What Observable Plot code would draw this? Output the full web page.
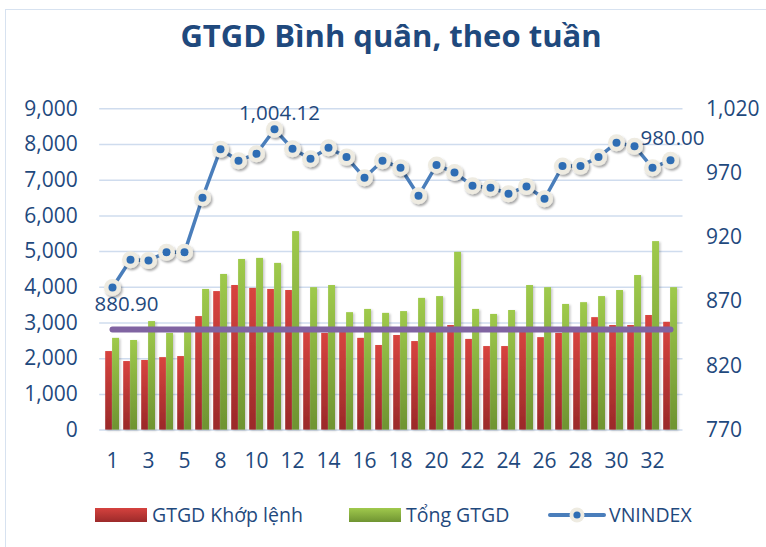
<!DOCTYPE html>
<html>
<head>
<meta charset="utf-8">
<script src="https://cdn.jsdelivr.net/npm/d3@7"></script>
<script src="https://cdn.jsdelivr.net/npm/@observablehq/plot@0.6"></script>
<style>
  html, body { margin: 0; padding: 0; background: #fff; overflow: hidden; }
  #wrap { position: relative; width: 766px; height: 547px; overflow: hidden; font-family: "Open Sans", sans-serif; color: #1f497d; }
  #border { position: absolute; left: 5px; top: 9px; width: 900px; height: 700px; border: 1.5px solid #d7e2f0; box-sizing: border-box; }
  #title { position: absolute; left: 8px; top: 20px; width: 766px; text-align: center; font-weight: 700; font-size: 31px; line-height: 31px; color: #1f497d; }
  #chart { position: absolute; left: 0; top: 72px; }
  #legend { position: absolute; left: 0; top: 490px; width: 766px; height: 57px; font-size: 19.5px; }
  .sw { position: absolute; top: 18px; width: 52px; height: 14px; }
  .lt { position: absolute; top: 25px; transform: translateY(-50%); white-space: nowrap; line-height: 1; }
</style>
</head>
<body>
<div id="wrap">
  <div id="border"></div>
  <div id="title">GTGD Bình quân, theo tuần</div>
  <div id="chart"></div>
  <div id="legend">
    <div class="sw" style="left:95px;background:linear-gradient(#d5423e,#9c2a2a);"></div>
    <div class="lt" style="left:152px;">GTGD Khớp lệnh</div>
    <div class="sw" style="left:349px;background:linear-gradient(#a0c94d,#6f9432);"></div>
    <div class="lt" style="left:406px;">Tổng GTGD</div>
    <svg style="position:absolute;left:548px;top:15px;" width="58" height="20">
      <line x1="2" y1="10" x2="56" y2="10" stroke="#4a7ebb" stroke-width="4" stroke-linecap="round"></line>
      <circle cx="29" cy="10" r="7.5" fill="#eeebe1"></circle>
      <circle cx="29" cy="10" r="3.6" fill="#2e6db4"></circle>
    </svg>
    <div class="lt" style="left:609px;">VNINDEX</div>
  </div>
</div>
<script>
// ---- Data ----
const weeks = ["1","2","3","4","5","7","8","9","10","11","12","13","14","15","16","17","18","19","20","21","22","23","24","25","26","27","28","29","30","31","32","33"];
const khopLenh = [2200,1920,1950,2030,2060,3180,3880,4050,3970,3940,3910,2830,2710,2800,2570,2370,2650,2480,2850,2930,2540,2340,2340,2850,2590,2710,2800,3150,2930,2930,3210,3020];
const tongGTGD = [2570,2510,3040,2710,2780,3940,4360,4780,4810,4670,5560,3990,4050,3290,3380,3270,3320,3690,3740,4980,3380,3240,3350,4050,3990,3520,3570,3740,3910,4330,5280,3990];
const vnindex = [880.90,902.5,902.0,908.4,908.3,950.8,988.6,979.6,985.0,1004.12,988.9,981.1,989.7,982.4,966.3,979.6,974.1,952.3,976.2,970.5,960.1,958.6,953.9,959.6,950.0,975.4,975.4,982.4,993.6,990.9,974.1,980.00];
const avgValue = 2820;
const leftTicks = [0,1000,2000,3000,4000,5000,6000,7000,8000,9000];
const rightTicks = [770,820,870,920,970,1020];
const labeledIdx = [0, 9, 31];

// right axis (VNINDEX) mapped onto left scale
const rMin = 770, rMax = 1020, lMax = 9000;
const toLeft = v => (v - rMin) / (rMax - rMin) * lMax;
const fromLeft = d => d / lMax * (rMax - rMin) + rMin;

const rows = weeks.map((w, i) => ({week: w, khop: khopLenh[i], tong: tongGTGD[i], vn: vnindex[i], vnL: toLeft(vnindex[i]), avg: avgValue}));
const fmt2 = d3.format(",.2f");
const lab = i => [rows[i]];

const svg = Plot.plot({
  width: 766,
  height: 418,
  marginTop: 36.3,
  marginBottom: 60.4,
  marginLeft: 99.2,
  marginRight: 83.5,
  style: {fontFamily: "Open Sans, sans-serif", fontSize: "21px", color: "#1f497d", background: "transparent", overflow: "visible"},
  x: {type: "band", domain: weeks, padding: 0, axis: null},
  y: {domain: [0, lMax], axis: null},
  marks: [
    Plot.gridY(leftTicks, {stroke: "#cfdcee", strokeOpacity: 1, strokeWidth: 1.5}),
    Plot.axisY(leftTicks, {anchor: "left", tickSize: 0, tickPadding: 22, tickFormat: d3.format(","), fontSize: 21, label: null}),
    Plot.axisY(rightTicks.map(toLeft), {anchor: "right", tickSize: 0, tickPadding: 23, tickFormat: d => d3.format(",")(Math.round(fromLeft(d))), fontSize: 21, label: null}),
    Plot.axisX(weeks.filter((d, i) => i % 2 === 0), {anchor: "bottom", tickSize: 0, tickPadding: 23, fontSize: 21, label: null}),
    Plot.barY(rows, {x: "week", y: "khop", fill: "url(#gradRed)", insetLeft: 2.2, insetRight: 9.1}),
    Plot.barY(rows, {x: "week", y: "tong", fill: "url(#gradGreen)", insetLeft: 9.1, insetRight: 2.0}),
    Plot.line(rows, {x: "week", y: "avg", stroke: "#8064a2", strokeWidth: 6, strokeLinecap: "round"}),
    Plot.line(rows, {x: "week", y: "vnL", stroke: "#4a7ebb", strokeWidth: 3.5}),
    Plot.dot(rows, {x: "week", y: "vnL", r: 8.5, fill: "#eeebe1", stroke: null}),
    Plot.dot(rows, {x: "week", y: "vnL", r: 4, fill: "#2e6db4", stroke: null}),
    Plot.text(lab(labeledIdx[0]), {x: "week", y: "vnL", text: d => fmt2(d.vn), dx: 14, dy: 17, fontSize: 20.5, fill: "#1f497d"}),
    Plot.text(lab(labeledIdx[1]), {x: "week", y: "vnL", text: d => fmt2(d.vn), dx: 5, dy: -16, fontSize: 20.5, fill: "#1f497d"}),
    Plot.text(lab(labeledIdx[2]), {x: "week", y: "vnL", text: d => fmt2(d.vn), dx: 2, dy: -22, fontSize: 20.5, fill: "#1f497d"})
  ]
});

const s = d3.select(svg);
const defs = s.insert("defs", ":first-child");
const gr = defs.append("linearGradient").attr("id", "gradRed").attr("x1", 0).attr("y1", 0).attr("x2", 0).attr("y2", 1);
gr.append("stop").attr("offset", "0%").attr("stop-color", "#d8443f");
gr.append("stop").attr("offset", "100%").attr("stop-color", "#9a2929");
const gg = defs.append("linearGradient").attr("id", "gradGreen").attr("x1", 0).attr("y1", 0).attr("x2", 0).attr("y2", 1);
gg.append("stop").attr("offset", "0%").attr("stop-color", "#9fca4c");
gg.append("stop").attr("offset", "100%").attr("stop-color", "#6e9331");
function shadow(id, dx, dy, sd, op) {
  const f = defs.append("filter").attr("id", id).attr("x", "-20%").attr("y", "-20%").attr("width", "140%").attr("height", "140%");
  f.append("feDropShadow").attr("dx", dx).attr("dy", dy).attr("stdDeviation", sd).attr("flood-color", "#000").attr("flood-opacity", op);
}
shadow("shBar", 1.5, 1, 0.8, 0.22);
shadow("shDot", 1.5, 2, 1.2, 0.35);
s.selectAll('g[fill="url(#gradRed)"], g[fill="url(#gradGreen)"]').attr("filter", "url(#shBar)");
s.selectAll('g[fill="#eeebe1"]').attr("filter", "url(#shDot)");

document.getElementById("chart").appendChild(svg);
</script>
</body>
</html>
